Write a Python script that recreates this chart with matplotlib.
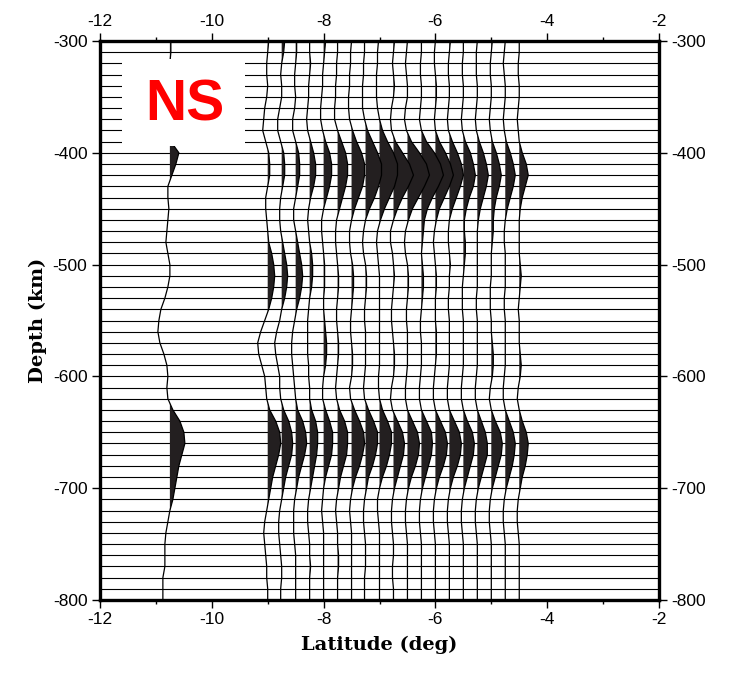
import numpy as np
import matplotlib.pyplot as plt
from matplotlib.patches import Rectangle

plt.rcParams['axes.unicode_minus'] = False

# depth levels of the traces (km), every 10 km
depth = list(range(-300, -801, -10))

# latitude of each trace (deg)
lats = [-10.75, -9.0, -8.75, -8.5, -8.25, -8.0, -7.75, -7.5, -7.25, -7.0,
        -6.75, -6.5, -6.25, -6.0, -5.75, -5.5, -5.25, -5.0, -4.75, -4.5]

# trace amplitudes (1 unit ~ 1/55.9 deg), -300 ... -800 km
amp_lone = [1, 1, 0, 0, 0, 0, 0, 0, 0, 1, 9, 6, 2, -2, -2, -1, -2, -3, -4, -2,
            0, 0, -2, -5, -9, -11, -12, -10, -6, -3, -2, -3, -2, 3, 10, 14, 15, 12, 9, 7,
            5, 3, 0, -2, -4, -5, -5, -5, -7, -7, -7]
amp_t01 = [1, 0, -1, -1, 0, -1, -3, -4, -5, -2, 1, 2, 2, 0, -2, -2, -1, 0, 1, 4,
           6, 7, 6, 4, 1, -3, -7, -10, -9, -6, -3, -2, -1, 2, 8, 12, 13, 11, 8, 5,
           3, 1, -1, -3, -4, -3, -2, -1, -1, 0, 0]
amp_t02 = [3, 2, 0, -1, 0, 0, -2, -4, -4, -1, 2, 3, 3, 1, -1, -2, -2, -1, 1, 3,
           5, 6, 5, 3, 0, -2, -5, -7, -6, -4, -2, -2, -1, 2, 7, 10, 11, 10, 7, 4,
           2, 0, -2, -3, -3, -2, -1, 0, 0, -1, -1]
amp_t03 = [1, 1, 0, -1, -1, 0, -1, -3, -3, 0, 3, 4, 4, 2, 0, -2, -2, 0, 2, 4,
           6, 7, 6, 4, 1, -1, -3, -4, -4, -3, -2, -1, 0, 2, 7, 10, 11, 9, 6, 3,
           1, -1, -2, -2, -2, -1, 0, 0, 0, 0, 0]
amp_t04 = [0, 0, 1, 0, -1, -1, -2, -3, -2, 1, 4, 6, 6, 4, 1, -1, -2, -1, 0, 2,
           3, 3, 2, 0, -1, -2, -2, -2, -2, -1, -1, 0, 0, 2, 6, 8, 8, 7, 5, 3,
           1, -1, -2, -2, -1, 0, 0, 1, 0, 0, 0]
amp_t05 = [2, 1, 0, -1, -1, -2, -3, -3, -1, 2, 6, 8, 8, 6, 3, 0, -2, -2, -1, 0,
           1, 1, 1, 0, 0, 1, 2, 3, 3, 2, 0, -1, -1, 2, 6, 9, 9, 8, 5, 2,
           0, -1, -2, -1, 0, 0, 0, 0, 0, 0, 0]
amp_t06 = [0, 0, -1, -1, -2, -2, -3, -3, 0, 4, 8, 10, 10, 8, 5, 2, -1, -2, -2, -1,
           0, 1, 1, 0, -1, -1, 0, 1, 1, 0, -1, -2, -1, 2, 7, 10, 10, 9, 6, 3,
           1, -1, -2, -1, 0, 0, 1, 1, 0, 0, 0]
amp_t07 = [0, -1, -1, -2, -2, -3, -3, -2, 1, 5, 10, 13, 13, 11, 7, 3, 0, -2, -2, -1,
           1, 2, 2, 1, 0, -1, -1, 0, 1, 1, 0, -2, -1, 3, 8, 12, 13, 11, 8, 4,
           1, -1, -2, -1, 0, 0, 0, 0, 0, 0, 0]
amp_t08 = [-1, -1, -2, -2, -3, -3, -3, -1, 2, 7, 12, 16, 16, 13, 9, 4, 0, -2, -3, -2,
           0, 1, 1, 0, -1, -1, 0, 0, 0, 0, -1, -2, -1, 3, 8, 12, 12, 10, 7, 3,
           1, -1, -2, -2, -1, 0, 0, 0, -1, -1, -1]
amp_t09 = [-1, -2, -2, -3, -3, -3, -2, 0, 3, 8, 14, 18, 18, 15, 10, 5, 1, -2, -3, -2,
           -1, 0, 0, 0, 0, 0, 0, 0, 0, 0, -1, -1, 0, 3, 8, 12, 12, 10, 7, 3,
           0, -2, -2, -1, 0, 0, 0, 0, 0, 0, 0]
amp_t10 = [1, 0, -1, 0, 1, 0, -2, -3, -2, 2, 9, 16, 20, 15, 9, 4, 0, -3, -3, -1,
           0, 1, 0, -1, -2, -2, -1, 0, 1, 1, 0, -2, -3, -1, 4, 9, 11, 10, 7, 4,
           1, -1, -2, -2, -1, 0, 0, -1, -1, 0, 0]
amp_t11 = [0, -1, -2, -1, 0, 0, -2, -3, -1, 4, 12, 19, 22, 17, 11, 5, 1, -2, -3, -2,
           0, 1, 1, 0, -1, -1, 0, 0, 0, 0, -1, -2, -2, 0, 5, 10, 12, 11, 8, 4,
           1, -1, -2, -2, -1, 0, 0, 0, 0, 0, 0]
amp_t12 = [0, 0, -1, -1, 0, 0, -1, -2, 0, 5, 13, 19, 22, 17, 11, 6, 3, 2, 1, 0,
           1, 2, 2, 1, 0, -1, -1, 0, 0, 0, -1, -2, -2, 0, 5, 10, 11, 10, 7, 4,
           1, -1, -2, -2, -1, 0, 0, 0, 0, 0, 0]
amp_t13 = [0, -1, -1, 0, 1, 1, 0, -1, 0, 4, 10, 15, 18, 14, 9, 4, 1, -1, -2, -1,
           0, 1, 1, 0, 0, 0, 1, 1, 1, 0, -1, -2, -2, 0, 5, 10, 12, 11, 8, 4,
           1, -1, -2, -2, -1, 0, 0, 0, 0, 0, 0]
amp_t14 = [1, 0, -1, -1, 0, 0, -1, -2, -1, 3, 8, 12, 14, 11, 7, 3, 0, -1, -1, 0,
           1, 0, 0, -1, -1, 0, 0, 0, 0, 0, -1, -2, -2, 0, 5, 10, 12, 11, 8, 4,
           1, -1, -2, -2, -1, 0, 0, 0, 0, 0, 0]
amp_t15 = [0, 0, -1, -1, 0, 0, -1, -2, -1, 2, 7, 10, 12, 10, 6, 3, 1, 1, 2, 2,
           1, 0, -1, -1, -1, 0, 0, 0, 0, 0, -1, -2, -2, 0, 4, 9, 11, 10, 7, 4,
           1, -1, -2, -2, -1, 0, 0, 0, 0, 0, 0]
amp_t16 = [0, -1, -1, -1, 0, 0, -1, -2, -1, 2, 6, 9, 11, 9, 6, 3, 1, 0, 0, 0,
           0, 0, 0, -1, -1, 0, 0, 0, 0, 0, -1, -2, -2, 0, 4, 8, 10, 10, 7, 4,
           1, -1, -2, -2, -1, 0, 0, 0, 0, 0, 0]
amp_t17 = [1, 0, -1, -1, 0, 0, -1, -2, -1, 1, 5, 8, 10, 8, 5, 3, 2, 2, 1, 0,
           0, 0, -1, -1, -1, 0, 0, 1, 2, 2, 1, -1, -2, 0, 4, 9, 11, 10, 7, 4,
           1, -1, -2, -2, -1, 0, 0, 0, 0, 0, 0]
amp_t18 = [0, -1, -2, -1, 0, 0, -1, -2, -1, 1, 5, 8, 10, 8, 5, 2, 0, -1, -1, 0,
           0, 0, 0, -1, -1, 0, 0, 0, 0, 0, -1, -2, -2, 0, 4, 8, 10, 9, 7, 4,
           1, -1, -2, -2, -1, 0, 0, 0, 0, 0, 0]
amp_t19 = [0, 0, -1, -1, 0, 0, -1, -2, -1, 0, 3, 7, 9, 6, 3, 1, 0, 0, 0, 0,
           1, 2, 1, 0, -1, 0, 0, 0, 1, 2, 1, -1, -2, 0, 3, 7, 9, 8, 6, 3,
           1, -1, -2, -2, -1, 0, 0, 0, 0, 0, 0]

traces = [amp_lone, amp_t01, amp_t02, amp_t03, amp_t04, amp_t05, amp_t06, amp_t07,
          amp_t08, amp_t09, amp_t10, amp_t11, amp_t12, amp_t13, amp_t14, amp_t15,
          amp_t16, amp_t17, amp_t18, amp_t19]
gain = 1.0 / 55.9

fig = plt.figure(figsize=(7.38, 6.74), dpi=100)
ax = fig.add_axes([100 / 738, 1 - 600 / 674, 559 / 738, 559 / 674])

# background depth grid
for d in depth:
    ax.axhline(d, color='black', lw=0.8, zorder=1)

d_arr = np.array(depth, dtype=float)
for lat, amp in zip(lats, traces):
    a = np.array(amp, dtype=float)
    assert len(a) == len(d_arr)
    x = lat + a * gain
    ax.fill_betweenx(d_arr, lat, x, where=a > 0, interpolate=True,
                     color='#231f20', lw=0, zorder=2)
    ax.plot(x, d_arr, color='black', lw=0.9, zorder=3)

# NS label box
ax.add_patch(Rectangle((-11.6, -394), 2.2, 78, facecolor='white',
                       edgecolor='none', zorder=4))
ax.text(-10.48, -358, 'NS', color='#ff0000', fontsize=41, fontweight='bold',
        family='Liberation Sans', ha='center', va='center', zorder=5)

ax.set_xlim(-12, -2)
ax.set_ylim(-800, -300)
ax.set_xticks([-12, -10, -8, -6, -4, -2])
ax.set_xticks(np.arange(-11, -2, 2), minor=True)
ax.set_yticks([-800, -700, -600, -500, -400, -300])

ax.tick_params(axis='both', which='both', direction='out', top=True, right=True,
               labeltop=True, labelright=True, labelsize=12.5, width=1.0, pad=3)
ax.tick_params(which='major', length=6)
ax.tick_params(which='minor', length=3)
for lab in ax.get_xticklabels() + ax.get_yticklabels():
    lab.set_family('Liberation Sans')
for s in ax.spines.values():
    s.set_linewidth(2.4)

ax.set_xlabel('Latitude (deg)', family='DejaVu Serif', fontweight='bold',
              fontsize=14, labelpad=6)
ax.set_ylabel('Depth (km)', family='DejaVu Serif', fontweight='bold',
              fontsize=14, labelpad=4)

fig.savefig('out.png', dpi=100)
